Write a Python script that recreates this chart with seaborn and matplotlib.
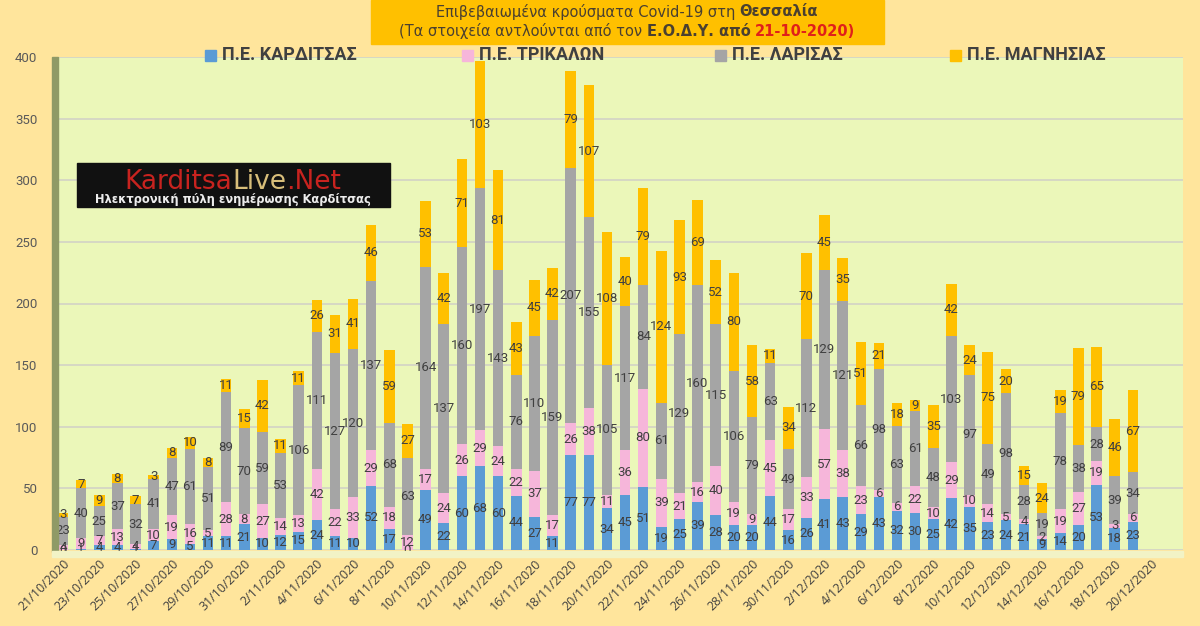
import numpy as np
import pandas as pd
import matplotlib
matplotlib.use("Agg")
import matplotlib.pyplot as plt
from matplotlib.patches import Rectangle
import seaborn as sns

# ---------------- data ----------------
dates = [f"{d.day}/{d.month}/{d.year}" for d in pd.date_range("2020-10-21", "2020-12-20", freq="D")]

karditsa = [0, 1, 4, 4, 1, 7, 9, 5, 11, 11,
            21, 10, 12, 15, 24, 11, 10, 52, 17, 0,
            49, 22, 60, 68, 60, 44, 27, 11, 77, 77,
            34, 45, 51, 19, 25, 39, 28, 20, 20, 44,
            16, 26, 41, 43, 29, 43, 32, 30, 25, 42,
            35, 23, 24, 21, 9, 14, 20, 53, 18, 23, np.nan]
trikala = [4, 9, 7, 13, 4, 10, 19, 16, 5, 28,
           8, 27, 14, 13, 42, 22, 33, 29, 18, 12,
           17, 24, 26, 29, 24, 22, 37, 17, 26, 38,
           11, 36, 80, 39, 21, 16, 40, 19, 9, 45,
           17, 33, 57, 38, 23, 6, 6, 22, 10, 29,
           10, 14, 5, 4, 2, 19, 27, 19, 3, 6, np.nan]
larisa = [23, 40, 25, 37, 32, 41, 47, 61, 51, 89,
          70, 59, 53, 106, 111, 127, 120, 137, 68, 63,
          164, 137, 160, 197, 143, 76, 110, 159, 207, 155,
          105, 117, 84, 61, 129, 160, 115, 106, 79, 63,
          49, 112, 129, 121, 66, 98, 63, 61, 48, 103,
          97, 49, 98, 28, 19, 78, 38, 28, 39, 34, np.nan]
magnisia = [3, 7, 9, 8, 7, 3, 8, 10, 8, 11,
            15, 42, 11, 11, 26, 31, 41, 46, 59, 27,
            53, 42, 71, 103, 81, 43, 45, 42, 79, 107,
            108, 40, 79, 124, 93, 69, 52, 80, 58, 11,
            34, 70, 45, 35, 51, 21, 18, 9, 35, 42,
            24, 75, 20, 15, 24, 19, 79, 65, 46, 67, np.nan]

series_names = ["Π.Ε. ΚΑΡΔΙΤΣΑΣ", "Π.Ε. ΤΡΙΚΑΛΩΝ", "Π.Ε. ΛΑΡΙΣΑΣ", "Π.Ε. ΜΑΓΝΗΣΙΑΣ"]
series_values = [karditsa, trikala, larisa, magnisia]
colors = ["#5B9BD5", "#F6B6DA", "#A5A5A5", "#FFC000"]

yticks = [0, 50, 100, 150, 200, 250, 300, 350, 400]

# ---------------- figure ----------------
W, H = 1200, 626
sns.set_theme(style="white")
plt.rcParams["font.family"] = ["DejaVu Sans"]

fig = plt.figure(figsize=(W / 100, H / 100), dpi=100, facecolor="#FFE59C")
ax = fig.add_axes([57 / W, 1 - 550 / H, (1183 - 57) / W, (550 - 57) / H])
ax.set_facecolor("#EBF7B9")

df = pd.DataFrame({"date": dates})
vals = np.array(series_values, dtype=float)
cum = np.cumsum(vals, axis=0)

# draw from top layer to bottom layer (overlapping cumulative bars)
for k in range(3, -1, -1):
    d = df.copy()
    d["v"] = cum[k]
    sns.barplot(data=d, x="date", y="v", order=dates, color=colors[k],
                saturation=1, width=0.58, errorbar=None, ax=ax,
                edgecolor="none", linewidth=0)

# data labels
for k in range(4):
    for i in range(len(dates)):
        v = vals[k, i]
        if np.isnan(v):
            continue
        base = cum[k, i] - v
        ax.text(i, base + v / 2, f"{int(v)}", ha="center", va="center",
                fontsize=9.5, color="#404040", family=["Roboto", "DejaVu Sans"])

ax.set_ylim(0, 400)
ax.set_xlim(-0.33, 61.77)
ax.set_yticks(yticks)
ax.set_yticklabels([str(t) for t in yticks], fontsize=9.5, color="#595959",
                   family=["Roboto", "DejaVu Sans"])
ax.set_xticks(range(0, len(dates), 2))
ax.set_xticklabels(dates[::2], rotation=45, ha="right", rotation_mode="anchor",
                   fontsize=9, color="#404040", family=["Open Sans", "DejaVu Sans"])
ax.tick_params(axis="y", length=0, pad=14)
ax.tick_params(axis="x", length=0, pad=5)
ax.set_xlabel("")
ax.set_ylabel("")
ax.yaxis.grid(True, color="#D6D8C4", linewidth=1.4)
ax.xaxis.grid(False)
ax.set_axisbelow(True)
for s in ax.spines.values():
    s.set_visible(False)

# left wall and floor
fig.patches.append(Rectangle((52 / W, 1 - 552 / H), 6 / W, (552 - 57) / H,
                             transform=fig.transFigure, color="#8F9A66", zorder=5))
fig.patches.append(Rectangle((52 / W, 1 - 557 / H), (1183 - 52) / W, 6 / H,
                             transform=fig.transFigure, color="#F2F3C6", zorder=5))

# ---------------- title box ----------------
fig.patches.append(Rectangle((371 / W, 1 - 44 / H), (884 - 371) / W, 44 / H,
                             transform=fig.transFigure, color="#FFC000", zorder=1))

renderer = fig.canvas.get_renderer()


def place_pieces(pieces, x_px, y_px, align="center", gap=4.5):
    texts = []
    for s, kw in pieces:
        t = fig.text(0, 1 - y_px / H, s, va="center", ha="left", zorder=6, **kw)
        texts.append(t)
    widths = [t.get_window_extent(renderer).width for t in texts]
    total = sum(widths) + gap * (len(texts) - 1)
    start = x_px - total / 2 if align == "center" else x_px
    for t, w in zip(texts, widths):
        t.set_x(start / W)
        start += w + gap


tcol = "#4A4030"
place_pieces([("Επιβεβαιωμένα κρούσματα Covid-19 στη", dict(fontsize=10.5, color=tcol)),
              ("Θεσσαλία", dict(fontsize=10.5, color=tcol, fontweight="bold"))],
             627, 12)
place_pieces([("(Τα στοιχεία αντλούνται από τον", dict(fontsize=10.5, color=tcol)),
              ("Ε.Ο.Δ.Υ. από", dict(fontsize=10.5, color=tcol, fontweight="bold")),
              ("21-10-2020)", dict(fontsize=10.5, color="#E0201A", fontweight="bold"))],
             627, 31)

# ---------------- legend ----------------
leg_x = [205, 462, 715, 950]
for x0, name, c in zip(leg_x, series_names, colors):
    fig.patches.append(Rectangle((x0 / W, 1 - 61 / H), 11 / W, 11 / H,
                                 transform=fig.transFigure, color=c, zorder=6))
    fig.text((x0 + 17) / W, 1 - 55 / H, name, fontsize=13, fontweight="bold",
             color="#404040", va="center", ha="left",
             family=["Roboto", "DejaVu Sans"], zorder=6)

# ---------------- logo ----------------
fig.patches.append(Rectangle((77 / W, 1 - 207 / H), (390 - 77) / W, (207 - 163) / H,
                             transform=fig.transFigure, color="#111111", zorder=6))
place_pieces([("Karditsa", dict(fontsize=19, color="#C8231F")),
              ("Live", dict(fontsize=19, color="#D8BE7A")),
              (".Net", dict(fontsize=19, color="#C8231F"))],
             233, 182, gap=0)
fig.text(233 / W, 1 - 200 / H, "Ηλεκτρονική πύλη ενημέρωσης Καρδίτσας",
         fontsize=8.3, fontweight="bold", color="#EDEDED", ha="center", va="center",
         zorder=7)

fig.savefig("out.png", dpi=100, facecolor=fig.get_facecolor())
